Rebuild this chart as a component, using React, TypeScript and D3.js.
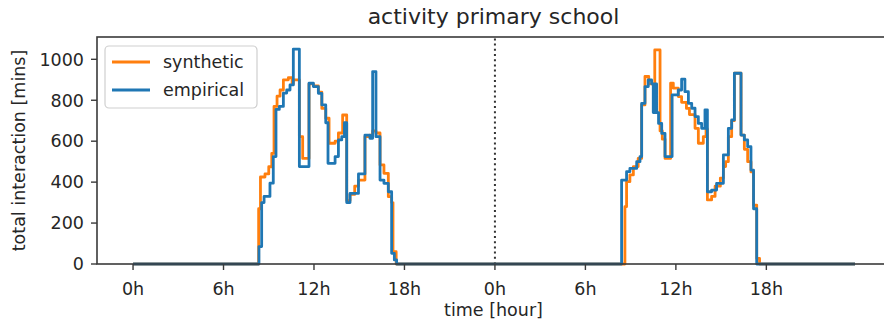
import React from "react";
import * as d3 from "d3";

// ---- data (hours within a day, value in mins) ----
const empiricalDay1: [number, number][] = [
  [0, 0], [8.35, 85], [8.53, 300], [8.69, 330], [9.08, 395], [9.3, 525], [9.48, 755], [9.7, 770],
  [9.97, 835], [10.19, 850], [10.41, 875], [10.63, 1050], [11.03, 476], [11.67, 883], [11.96, 867],
  [12.29, 834], [12.52, 777], [12.78, 690], [12.93, 492], [13.4, 525], [13.62, 606], [13.84, 622],
  [14.02, 690], [14.17, 300], [14.39, 345], [14.95, 440], [15.38, 630], [15.71, 614], [15.89, 940],
  [16.11, 622], [16.38, 410], [16.64, 394], [16.93, 353], [17.15, 52], [17.33, 20], [17.48, 0],
];
const syntheticDay1: [number, number][] = [
  [0, 0], [8.33, 270], [8.45, 425], [8.75, 440], [9.0, 475], [9.2, 540], [9.35, 770], [9.55, 820],
  [9.75, 850], [9.97, 900], [10.3, 910], [10.55, 880], [10.63, 900], [11.03, 622], [11.25, 516],
  [11.67, 880], [11.96, 870], [12.29, 840], [12.52, 760], [12.78, 712], [13.0, 590], [13.4, 600],
  [13.62, 640], [13.9, 728], [14.17, 310], [14.39, 340], [14.7, 380], [14.95, 410], [15.38, 622],
  [15.71, 630], [15.89, 650], [16.11, 640], [16.38, 484], [16.64, 443], [16.93, 329], [17.15, 300],
  [17.24, 60], [17.45, 0],
];
const empiricalDay2: [number, number][] = [
  [0, 0], [8.4, 410], [8.73, 451], [8.95, 467], [9.4, 500], [9.62, 525], [9.73, 785], [9.95, 867],
  [10.17, 899], [10.39, 880], [10.5, 740], [10.6, 880], [10.72, 740], [10.85, 687], [11.06, 638],
  [11.28, 525], [11.75, 826], [12.16, 850], [12.38, 903], [12.6, 842], [12.83, 785], [13.05, 761],
  [13.27, 720], [13.49, 687], [13.71, 663], [13.93, 753], [14.09, 353], [14.37, 361], [14.7, 394],
  [15.15, 533], [15.48, 663], [15.7, 704], [15.88, 932], [16.32, 630], [16.54, 606], [16.76, 573],
  [16.98, 459], [17.15, 270], [17.36, 0], [23.88, 0],
];
const syntheticDay2: [number, number][] = [
  [0, 0], [8.62, 280], [8.73, 402], [8.95, 435], [9.18, 476], [9.5, 516], [9.73, 777], [9.95, 916],
  [10.2, 880], [10.6, 1046], [10.95, 650], [11.1, 610], [11.28, 516], [11.65, 883], [11.83, 859],
  [12.16, 818], [12.38, 790], [12.7, 760], [12.9, 730], [13.27, 663], [13.49, 590], [13.82, 622],
  [14.0, 660], [14.09, 313], [14.37, 330], [14.6, 380], [14.95, 420], [15.15, 476], [15.3, 500],
  [15.48, 622], [15.7, 700], [15.88, 932], [16.32, 630], [16.54, 560], [16.76, 500], [16.98, 450],
  [17.15, 288], [17.36, 27], [17.55, 0], [23.88, 0],
];
const xTickHours = [0, 6, 12, 18, 24, 30, 36, 42];
const xTickLabels = ["0h", "6h", "12h", "18h", "0h", "6h", "12h", "18h"];
const yTicks = [0, 200, 400, 600, 800, 1000];
const seriesNames = ["synthetic", "empirical"];
const seriesColors = ["#ff7f0e", "#1f77b4"];

const W = 884;
const H = 324;
const FONT = "DejaVu Sans";

function joinDays(d1: [number, number][], d2: [number, number][]): [number, number][] {
  return [...d1, ...d2.map(([h, v]) => [h + 24, v] as [number, number])];
}

export default function App() {
  const left = 97, right = 890, top = 37, bottom = 264;
  const x = d3.scaleLinear().domain([-2.39, 50.2]).range([left, right]);
  const y = d3.scaleLinear().domain([0, 1109]).range([bottom, top]);
  const line = d3
    .line<[number, number]>()
    .x((d) => x(d[0]))
    .y((d) => y(d[1]))
    .curve(d3.curveStepAfter);

  const syn = joinDays(syntheticDay1, syntheticDay2);
  const emp = joinDays(empiricalDay1, empiricalDay2);
  const spine = "#3a3a3a";
  const textCol = "#262626";

  return (
    <svg
      width={W}
      height={H}
      style={{ position: "absolute", left: 0, top: 0, background: "#fff" }}
      fontFamily={FONT}
    >
      <rect x={0} y={0} width={W} height={H} fill="#fff" />
      {/* dotted midnight line */}
      <line x1={x(24)} x2={x(24)} y1={bottom} y2={top} stroke="#333" strokeWidth={2} strokeDasharray="2,3.2" />
      {/* series */}
      <path d={line(syn) || ""} fill="none" stroke={seriesColors[0]} strokeWidth={2.8} strokeLinejoin="round" />
      <path d={line(emp) || ""} fill="none" stroke={seriesColors[1]} strokeWidth={2.8} strokeLinejoin="round" />
      {/* spines */}
      <rect x={left} y={top} width={right - left} height={bottom - top} fill="none" stroke={spine} strokeWidth={1.6} />
      {/* y ticks */}
      {yTicks.map((t) => (
        <g key={"y" + t}>
          <line x1={left - 6} x2={left} y1={y(t)} y2={y(t)} stroke={spine} strokeWidth={1.4} />
          <text x={left - 13} y={y(t)} dy="0.36em" textAnchor="end" fontSize={17.5} fill={textCol}>
            {t}
          </text>
        </g>
      ))}
      {/* x ticks */}
      {xTickHours.map((h, i) => (
        <g key={"x" + i}>
          <line x1={x(h)} x2={x(h)} y1={bottom} y2={bottom + 6} stroke={spine} strokeWidth={1.4} />
          <text x={x(h)} y={295} textAnchor="middle" fontSize={17.5} fill={textCol}>
            {xTickLabels[i]}
          </text>
        </g>
      ))}
      {/* labels */}
      <text x={(left + right) / 2} y={316} textAnchor="middle" fontSize={17.5} fill={textCol}>
        time [hour]
      </text>
      <text
        transform={`translate(25,${(top + bottom) / 2}) rotate(-90)`}
        textAnchor="middle"
        fontSize={17.5}
        fill={textCol}
      >
        total interaction [mins]
      </text>
      <text x={(left + right) / 2} y={24} textAnchor="middle" fontSize={22} fill={textCol}>
        activity primary school
      </text>
      {/* legend */}
      <rect x={105} y={46} width={152} height={62} rx={4} fill="#fff" fillOpacity={0.8} stroke="#cfcfcf" strokeWidth={1.2} />
      {seriesNames.map((n, i) => (
        <g key={n}>
          <line x1={112} x2={150} y1={62 + i * 28} y2={62 + i * 28} stroke={seriesColors[i]} strokeWidth={2.8} />
          <text x={163} y={62 + i * 28} dy="0.36em" fontSize={17.5} fill={textCol}>
            {n}
          </text>
        </g>
      ))}
    </svg>
  );
}
